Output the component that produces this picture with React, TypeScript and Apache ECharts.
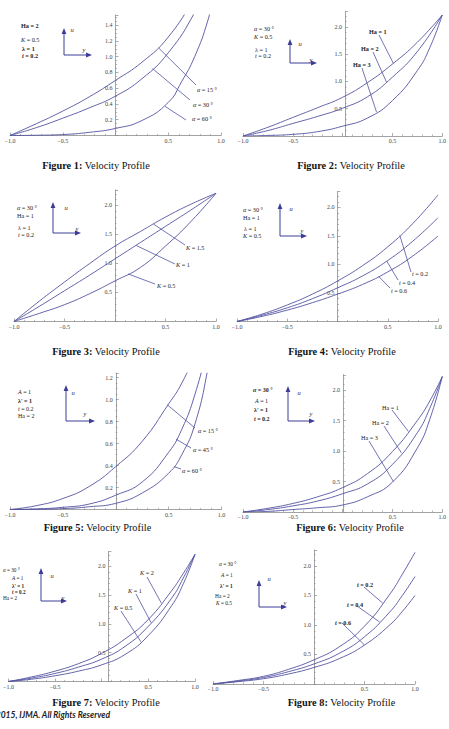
import React, { useEffect, useRef } from 'react';
import * as echarts from 'echarts';

// Velocity profiles u(y): [y, u] pairs for every parameter value.
// Figure 1: alpha = 15°, 30°, 60°
const fig1Alpha15 = [[-1, 0], [-0.75, 0.15], [-0.5, 0.31], [-0.25, 0.49], [0, 0.7], [0.25, 0.93], [0.5, 1.25], [0.75, 1.76], [0.9, 2.15]];
const fig1Alpha30 = [[-1, 0], [-0.75, 0.1], [-0.5, 0.22], [-0.25, 0.35], [0, 0.5], [0.25, 0.72], [0.5, 1.05], [0.75, 1.56], [0.9, 2.0]];
const fig1Alpha60 = [[-1, 0], [-0.75, 0.003], [-0.5, 0.012], [-0.25, 0.04], [0, 0.09], [0.25, 0.19], [0.5, 0.42], [0.625, 0.68], [0.75, 1.0], [0.875, 1.46], [1, 2.1]];
// Figure 2: Ha = 1, 2, 3
const fig2Ha1 = [[-1, 0], [-0.75, 0.16], [-0.5, 0.34], [-0.25, 0.52], [0, 0.71], [0.25, 0.98], [0.5, 1.32], [0.75, 1.72], [1, 2.22]];
const fig2Ha2 = [[-1, 0], [-0.75, 0.1], [-0.5, 0.23], [-0.25, 0.36], [0, 0.51], [0.25, 0.72], [0.5, 1.08], [0.75, 1.55], [1, 2.22]];
const fig2Ha3 = [[-1, 0], [-0.75, 0.01], [-0.5, 0.03], [-0.25, 0.08], [0, 0.18], [0.25, 0.33], [0.5, 0.65], [0.75, 1.2], [0.875, 1.62], [1, 2.22]];
// Figure 3: K = 1.5, 1, 0.5
const fig3K15 = [[-1, 0], [-0.75, 0.35], [-0.5, 0.68], [-0.25, 1.0], [0, 1.3], [0.25, 1.55], [0.5, 1.8], [0.75, 2.02], [1, 2.21]];
const fig3K1 = [[-1, 0], [-0.75, 0.26], [-0.5, 0.53], [-0.25, 0.8], [0, 1.08], [0.25, 1.36], [0.5, 1.64], [0.75, 1.92], [1, 2.21]];
const fig3K05 = [[-1, 0], [-0.75, 0.14], [-0.5, 0.29], [-0.25, 0.48], [0, 0.7], [0.25, 0.93], [0.5, 1.3], [0.75, 1.72], [1, 2.21]];
// Figure 4: t = 0.2, 0.4, 0.6
const fig4T02 = [[-1, 0], [-0.75, 0.13], [-0.5, 0.29], [-0.25, 0.48], [0, 0.71], [0.25, 0.98], [0.5, 1.31], [0.75, 1.72], [1, 2.22]];
const fig4T04 = [[-1, 0], [-0.75, 0.11], [-0.5, 0.24], [-0.25, 0.4], [0, 0.59], [0.25, 0.8], [0.5, 1.07], [0.75, 1.41], [1, 1.82]];
const fig4T06 = [[-1, 0], [-0.75, 0.09], [-0.5, 0.2], [-0.25, 0.33], [0, 0.48], [0.25, 0.65], [0.5, 0.87], [0.75, 1.15], [1, 1.5]];
// Figure 5: alpha = 15°, 45°, 60°
const fig5Alpha15 = [[-1, 0], [-0.75, 0.035], [-0.5, 0.1], [-0.25, 0.21], [0, 0.39], [0.25, 0.62], [0.5, 0.96], [0.625, 1.15], [0.75, 1.42], [0.875, 1.8]];
const fig5Alpha45 = [[-1, 0], [-0.75, 0.005], [-0.5, 0.02], [-0.25, 0.05], [0, 0.13], [0.25, 0.25], [0.5, 0.52], [0.625, 0.73], [0.75, 1.05], [0.875, 1.5]];
const fig5Alpha60 = [[-1, 0], [-0.75, 0.002], [-0.5, 0.008], [-0.25, 0.025], [0, 0.056], [0.25, 0.15], [0.5, 0.33], [0.625, 0.5], [0.75, 0.78], [0.875, 1.3], [1, 2.0]];
// Figure 6: Ha = 1, 2, 3
const fig6Ha1 = [[-1, 0], [-0.75, 0.06], [-0.5, 0.14], [-0.25, 0.25], [0, 0.4], [0.25, 0.63], [0.5, 0.99], [0.75, 1.5], [0.875, 1.82], [1, 2.22]];
const fig6Ha2 = [[-1, 0], [-0.75, 0.04], [-0.5, 0.1], [-0.25, 0.18], [0, 0.3], [0.25, 0.46], [0.5, 0.78], [0.75, 1.3], [0.875, 1.7], [1, 2.22]];
const fig6Ha3 = [[-1, 0], [-0.75, 0.01], [-0.5, 0.04], [-0.25, 0.07], [0, 0.115], [0.25, 0.25], [0.5, 0.49], [0.75, 1.05], [0.875, 1.52], [1, 2.22]];
// Figure 7: K = 2, 1, 0.5
const fig7K2 = [[-1, 0], [-0.75, 0.08], [-0.5, 0.18], [-0.25, 0.31], [0, 0.49], [0.25, 0.74], [0.5, 1.08], [0.75, 1.58], [0.875, 1.88], [1, 2.21]];
const fig7K1 = [[-1, 0], [-0.75, 0.06], [-0.5, 0.14], [-0.25, 0.25], [0, 0.39], [0.25, 0.61], [0.5, 0.96], [0.75, 1.45], [0.875, 1.8], [1, 2.21]];
const fig7K05 = [[-1, 0], [-0.75, 0.04], [-0.5, 0.1], [-0.25, 0.18], [0, 0.29], [0.25, 0.47], [0.5, 0.8], [0.75, 1.32], [0.875, 1.7], [1, 2.21]];
// Figure 8: t = 0.2, 0.4, 0.6
const fig8T02 = [[-1, 0], [-0.75, 0.06], [-0.5, 0.13], [-0.25, 0.25], [0, 0.41], [0.25, 0.63], [0.5, 0.98], [0.75, 1.52], [0.875, 1.86], [1, 2.23]];
const fig8T04 = [[-1, 0], [-0.75, 0.05], [-0.5, 0.11], [-0.25, 0.21], [0, 0.34], [0.25, 0.52], [0.5, 0.8], [0.75, 1.22], [0.875, 1.5], [1, 1.82]];
const fig8T06 = [[-1, 0], [-0.75, 0.04], [-0.5, 0.09], [-0.25, 0.17], [0, 0.28], [0.25, 0.43], [0.5, 0.66], [0.75, 1.0], [0.875, 1.23], [1, 1.5]];

const captionTitle = 'Velocity Profile';
const copyright = '© 2015, IJMA. All Rights Reserved';

const LINE = '#5252a0';
const ARROW = '#3d3d98';
const AXIS = '#8c8c8c';
const INK = '#222';
const SERIF = 'Liberation Serif';

type Leader = { text: string; at: number[]; end: number[]; label: number[]; bold?: boolean };
type LegendLine = { text: string; x: number; y: number; bold?: boolean };
type Panel = {
  grid: { left: number; top: number; width: number; height: number };
  yMax: number;
  yStep: number;
  yMinor: number;
  curves: number[][][];
  leaders: Leader[];
  legend: LegendLine[];
  legendSize: number;
  arrow: { x: number; y: number; up: number; right: number; u: number[]; v: number[] };
  caption: { n: number; x: number; y: number };
};

const panels: Panel[] = [
  {
    grid: { left: 10, top: 15, width: 211, height: 120.5 },
    yMax: 1.53, yStep: 0.2, yMinor: 4,
    curves: [fig1Alpha15, fig1Alpha30, fig1Alpha60],
    leaders: [
      { text: '{i|α} = 15 °', at: [0.41, 1.11], end: [196, 85], label: [197, 89] },
      { text: '{i|α} = 30 °', at: [0.35, 0.85], end: [190, 100], label: [193, 104] },
      { text: '{i|α} = 60 °', at: [0.47, 0.37], end: [186, 120], label: [192, 118] },
    ],
    legend: [
      { text: 'Ha = 2', x: 21, y: 25, bold: true },
      { text: '{i|K} = 0.5', x: 21, y: 39 },
      { text: 'λ = 1', x: 22, y: 48, bold: true },
      { text: '{i|t} = 0.2', x: 22, y: 55, bold: true },
    ],
    legendSize: 6.2,
    arrow: { x: 64, y: 55, up: 27, right: 28, u: [72, 29], v: [84, 49] },
    caption: { n: 1, x: 96, y: 165 },
  },
  {
    grid: { left: 243, top: 11.7, width: 204, height: 124.3 },
    yMax: 2.28, yStep: 0.5, yMinor: 5,
    curves: [fig2Ha1, fig2Ha2, fig2Ha3],
    leaders: [
      { text: 'Ha = 1', at: [0.51, 1.33], end: [379, 35], label: [369, 31], bold: true },
      { text: 'Ha = 2', at: [0.44, 0.99], end: [373, 52], label: [361, 48], bold: true },
      { text: 'Ha = 3', at: [0.34, 0.44], end: [362, 68], label: [353, 64], bold: true },
    ],
    legend: [
      { text: '{i|α} = 30 °', x: 254, y: 28 },
      { text: '{i|K} = 0.5', x: 254, y: 36 },
      { text: 'λ = 1', x: 255, y: 49 },
      { text: '{i|t} = 0.2', x: 255, y: 55 },
    ],
    legendSize: 6.2,
    arrow: { x: 290, y: 63, up: 24, right: 27, u: [300, 43], v: [311, 59] },
    caption: { n: 2, x: 351, y: 165 },
  },
  {
    grid: { left: 14, top: 189.8, width: 202, height: 131.7 },
    yMax: 2.27, yStep: 0.5, yMinor: 5,
    curves: [fig3K15, fig3K1, fig3K05],
    leaders: [
      { text: '{i|K} = 1.5', at: [0.38, 1.68], end: [185, 245], label: [186, 247] },
      { text: '{i|K} = 1', at: [0.21, 1.31], end: [175, 264], label: [176, 264] },
      { text: '{i|K} = 0.5', at: [0.13, 0.82], end: [155, 284], label: [157, 285] },
    ],
    legend: [
      { text: '{i|α} = 30 °', x: 17, y: 207 },
      { text: 'Ha = 1', x: 17, y: 215 },
      { text: 'λ = 1', x: 18, y: 227 },
      { text: '{i|t} = 0.2', x: 18, y: 234 },
    ],
    legendSize: 6.2,
    arrow: { x: 53, y: 233, up: 31, right: 28, u: [66, 207], v: [77, 228] },
    caption: { n: 3, x: 106, y: 351 },
  },
  {
    grid: { left: 237, top: 191.5, width: 201, height: 130 },
    yMax: 2.28, yStep: 0.5, yMinor: 5,
    curves: [fig4T02, fig4T04, fig4T06],
    leaders: [
      { text: '{i|t} = 0.2', at: [0.62, 1.51], end: [411, 272], label: [412, 273] },
      { text: '{i|t} = 0.4', at: [0.49, 1.06], end: [398, 280], label: [399, 282] },
      { text: '{i|t} = 0.6', at: [0.41, 0.79], end: [390, 288], label: [391, 290] },
    ],
    legend: [
      { text: '{i|α} = 30 °', x: 243, y: 209 },
      { text: 'Ha = 1', x: 243, y: 217 },
      { text: 'λ = 1', x: 244, y: 228 },
      { text: '{i|K} = 0.5', x: 243, y: 235 },
    ],
    legendSize: 6.2,
    arrow: { x: 280, y: 236, up: 33, right: 27, u: [291, 208], v: [302, 230] },
    caption: { n: 4, x: 342, y: 351 },
  },
  {
    grid: { left: 10, top: 373.1, width: 211.5, height: 136.4 },
    yMax: 1.24, yStep: 0.2, yMinor: 4,
    curves: [fig5Alpha15, fig5Alpha45, fig5Alpha60],
    leaders: [
      { text: '{i|α} = 15 °', at: [0.49, 0.95], end: [195, 428], label: [198, 430] },
      { text: '{i|α} = 45 °', at: [0.57, 0.64], end: [191, 448], label: [193, 449] },
      { text: '{i|α} = 60 °', at: [0.55, 0.39], end: [181, 469], label: [182, 470] },
    ],
    legend: [
      { text: '{i|A} = 1', x: 18, y: 392 },
      { text: "λ' = 1", x: 18, y: 401, bold: true },
      { text: '{i|t} = 0.2', x: 18, y: 409 },
      { text: 'Ha = 2', x: 18, y: 416 },
    ],
    legendSize: 6,
    arrow: { x: 66, y: 421, up: 36, right: 29, u: [73, 392], v: [85, 413] },
    caption: { n: 5, x: 97.5, y: 527 },
  },
  {
    grid: { left: 243, top: 374.75, width: 200, height: 137.25 },
    yMax: 2.25, yStep: 0.5, yMinor: 5,
    curves: [fig6Ha1, fig6Ha2, fig6Ha3],
    leaders: [
      { text: 'Ha = 1', at: [0.66, 1.32], end: [392, 410], label: [382, 407] },
      { text: 'Ha = 2', at: [0.59, 0.97], end: [384, 426], label: [372, 422] },
      { text: 'Ha = 3', at: [0.51, 0.5], end: [369, 441], label: [361, 437] },
    ],
    legend: [
      { text: '{i|α} = 30 °', x: 253, y: 390, bold: true },
      { text: '{i|A} = 1', x: 255, y: 401 },
      { text: "λ' = 1", x: 254, y: 410, bold: true },
      { text: '{i|t} = 0.2', x: 254, y: 419, bold: true },
    ],
    legendSize: 6,
    arrow: { x: 288, y: 421, up: 35, right: 27, u: [299, 392], v: [311, 413] },
    caption: { n: 6, x: 350, y: 527 },
  },
  {
    grid: { left: -5, top: 551.5, width: 200, height: 130 },
    yMax: 2.26, yStep: 0.5, yMinor: 5,
    curves: [fig7K2, fig7K1, fig7K05],
    leaders: [
      { text: '{i|K} = 2', at: [0.64, 1.36], end: [147, 577], label: [140, 572] },
      { text: '{i|K} = 1', at: [0.53, 1.02], end: [136, 594], label: [128, 590] },
      { text: '{i|K} = 0.5', at: [0.42, 0.69], end: [121, 611], label: [114, 607] },
    ],
    legend: [
      { text: '{i|α} = 30 °', x: 3, y: 570 },
      { text: '{i|A} = 1', x: 12, y: 578 },
      { text: "λ' = 1", x: 12, y: 585.5, bold: true },
      { text: '{i|t} = 0.2', x: 12, y: 591.5, bold: true },
      { text: 'Ha = 2', x: 3, y: 597.5 },
    ],
    legendSize: 5.2,
    arrow: { x: 41, y: 601, up: 33, right: 26, u: [52, 575], v: [63, 597] },
    caption: { n: 7, x: 106, y: 702 },
  },
  {
    grid: { left: 213, top: 550, width: 202, height: 134 },
    yMax: 2.27, yStep: 0.5, yMinor: 5,
    curves: [fig8T02, fig8T04, fig8T06],
    leaders: [
      { text: '{i|t} = 0.2', at: [0.68, 1.37], end: [364, 587], label: [357, 584], bold: true },
      { text: '{i|t} = 0.4', at: [0.65, 1.05], end: [357, 606], label: [347, 604], bold: true },
      { text: '{i|t} = 0.6', at: [0.5, 0.66], end: [342, 623], label: [335, 622], bold: true },
    ],
    legend: [
      { text: '{i|α} = 30 °', x: 219, y: 564 },
      { text: '{i|A} = 1', x: 221, y: 575 },
      { text: "λ' = 1", x: 220, y: 585.5, bold: true },
      { text: 'Ha = 2', x: 215, y: 595.5 },
      { text: '{i|K} = 0.5', x: 216, y: 603 },
    ],
    legendSize: 5.4,
    arrow: { x: 259, y: 607, up: 27, right: 28, u: [269, 578], v: [285, 602] },
    caption: { n: 8, x: 341.5, y: 702 },
  },
];

const fmtX = (v: number) => (v === 0 ? '' : (v < 0 ? '−' : '') + Math.abs(v).toFixed(1));
const fmtY = (step: number) => (v: number) => {
  if (v === 0) return '';
  const k = v / step;
  return Math.abs(k - Math.round(k)) > 1e-6 ? '' : v.toFixed(1);
};

function textEl(x: number, y: number, text: string, size: number, bold?: boolean, align = 'left') {
  const weight = bold ? 'bold' : 'normal';
  return {
    type: 'text',
    x,
    y,
    silent: true,
    style: {
      text,
      fill: INK,
      fontFamily: SERIF,
      fontSize: size,
      fontWeight: weight,
      align,
      verticalAlign: 'middle',
      rich: {
        i: { fontStyle: 'italic', fontFamily: SERIF, fontSize: size, fontWeight: weight, fill: INK },
      },
    },
  };
}

function arrowIcon(a: Panel['arrow']) {
  const { x, y, up, right } = a;
  const head = 6;
  return {
    type: 'group',
    silent: true,
    children: [
      { type: 'line', shape: { x1: x, y1: y, x2: x, y2: y - up + head - 1 }, style: { stroke: ARROW, lineWidth: 1 } },
      { type: 'polygon', shape: { points: [[x - 2.4, y - up + head], [x + 2.4, y - up + head], [x, y - up]] }, style: { fill: ARROW } },
      { type: 'line', shape: { x1: x, y1: y, x2: x + right - head + 1, y2: y }, style: { stroke: ARROW, lineWidth: 1 } },
      { type: 'polygon', shape: { points: [[x + right - head, y - 2.4], [x + right - head, y + 2.4], [x + right, y]] }, style: { fill: ARROW } },
    ],
  };
}

function buildOption() {
  return {
    animation: false,
    backgroundColor: '#fff',
    grid: panels.map((p) => ({ ...p.grid })),
    xAxis: panels.map((p, i) => ({
      type: 'value',
      gridIndex: i,
      min: -1,
      max: 1,
      interval: 0.5,
      axisLine: { onZero: true, lineStyle: { color: AXIS, width: 0.8 } },
      axisTick: { inside: true, length: 3, lineStyle: { color: AXIS, width: 0.7 } },
      minorTick: { show: true, splitNumber: 5, length: 1.6, lineStyle: { color: AXIS, width: 0.6 } },
      splitLine: { show: false },
      axisLabel: { fontSize: 6, fontFamily: SERIF, color: '#444', margin: 2, formatter: fmtX },
    })),
    // the vertical axis sits at y = 0, i.e. halfway across the symmetric x range
    yAxis: panels.map((p, i) => ({
      type: 'value',
      gridIndex: i,
      min: 0,
      max: p.yMax,
      interval: p.yStep,
      offset: -p.grid.width / 2,
      axisLine: { show: true, onZero: false, lineStyle: { color: AXIS, width: 0.8 } },
      axisTick: { inside: true, length: 3, lineStyle: { color: AXIS, width: 0.7 } },
      minorTick: { show: true, splitNumber: p.yMinor, length: 1.6, lineStyle: { color: AXIS, width: 0.6 } },
      splitLine: { show: false },
      axisLabel: { fontSize: 6, fontFamily: SERIF, color: '#444', margin: 3, formatter: fmtY(p.yStep) },
    })),
    series: panels.flatMap((p, i) =>
      p.curves.map((c) => ({
        type: 'line',
        xAxisIndex: i,
        yAxisIndex: i,
        data: c,
        showSymbol: false,
        symbol: 'none',
        smooth: 0.5,
        clip: true,
        silent: true,
        lineStyle: { color: LINE, width: 0.9 },
      }))
    ),
  };
}

function buildGraphics(chart: echarts.ECharts) {
  const g: any[] = [];
  panels.forEach((p, i) => {
    p.leaders.forEach((l) => {
      const [px, py] = chart.convertToPixel({ gridIndex: i }, l.at) as number[];
      g.push({
        type: 'line',
        silent: true,
        shape: { x1: px, y1: py, x2: l.end[0], y2: l.end[1] },
        style: { stroke: LINE, lineWidth: 0.8 },
      });
      g.push(textEl(l.label[0], l.label[1], l.text, 6.2, l.bold));
    });
    p.legend.forEach((t) => g.push(textEl(t.x, t.y, t.text, p.legendSize, t.bold)));
    g.push(arrowIcon(p.arrow));
    g.push({
      type: 'text', x: p.arrow.u[0], y: p.arrow.u[1], silent: true,
      style: { text: 'u', fontFamily: SERIF, fontStyle: 'italic', fontSize: 6.5, fill: INK, align: 'center', verticalAlign: 'middle' },
    });
    g.push({
      type: 'text', x: p.arrow.v[0], y: p.arrow.v[1], silent: true,
      style: { text: 'y', fontFamily: SERIF, fontStyle: 'italic', fontSize: 6.5, fill: INK, align: 'center', verticalAlign: 'middle' },
    });
    g.push({
      type: 'text', x: p.caption.x, y: p.caption.y, silent: true,
      style: {
        text: `{b|Figure ${p.caption.n}:} ${captionTitle}`,
        fontFamily: SERIF, fontSize: 10.3, fill: '#111', align: 'center', verticalAlign: 'middle',
        rich: { b: { fontFamily: SERIF, fontSize: 10.3, fontWeight: 'bold', fill: '#111' } },
      },
    });
  });
  g.push({
    type: 'text', x: 110, y: 715, silent: true,
    style: {
      text: copyright, fontFamily: 'Lato', fontWeight: 'bold', fontStyle: 'italic',
      fontSize: 8.5, fill: '#222', align: 'right', verticalAlign: 'middle',
    },
  });
  return g;
}

export default function App() {
  const ref = useRef<HTMLDivElement>(null);
  useEffect(() => {
    if (!ref.current) return;
    const chart = echarts.init(ref.current, undefined, { renderer: 'svg' });
    chart.setOption(buildOption() as any);
    chart.setOption({ graphic: buildGraphics(chart) } as any);
    return () => chart.dispose();
  }, []);
  return (
    <div
      ref={ref}
      style={{ position: 'fixed', left: 0, top: 0, width: 449, height: 729, background: '#fff' }}
    />
  );
}
